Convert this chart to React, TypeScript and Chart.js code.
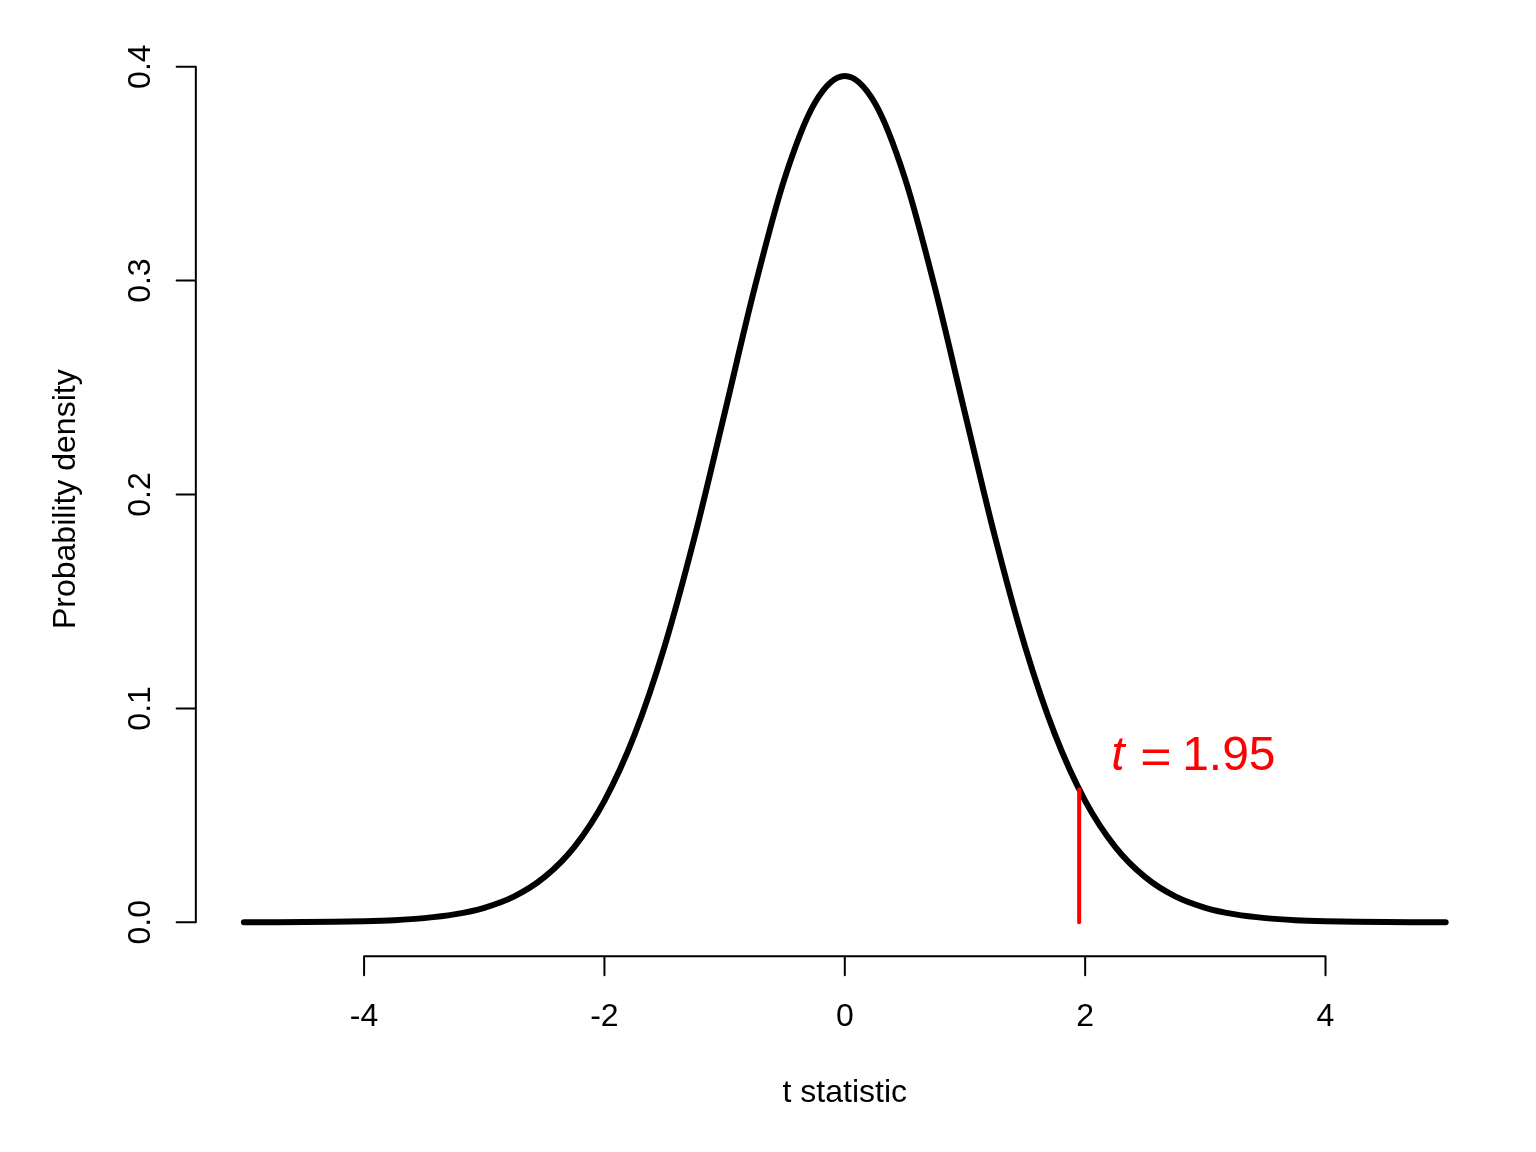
import React, { useEffect, useRef } from "react";
import { Chart, registerables } from "chart.js";

Chart.register(...registerables);

// t distribution (df = 30) density
const tValues = [
  -5, -4.75, -4.5, -4.25, -4, -3.75, -3.5, -3.25, -3, -2.75, -2.5, -2.25, -2, -1.75, -1.5, -1.25, -1, -0.75, -0.5, -0.25,
  0, 0.25, 0.5, 0.75, 1, 1.25, 1.5, 1.75, 2, 2.25, 2.5, 2.75, 3, 3.25, 3.5, 3.75, 4, 4.25, 4.5, 4.75, 5,
];
const densityValues = [
  0.00003, 0.00007, 0.00013, 0.00027, 0.00053, 0.00102, 0.00196, 0.00369, 0.00678, 0.0121, 0.0211, 0.0353, 0.0568,
  0.0876, 0.1289, 0.1801, 0.238, 0.2966, 0.3479, 0.383,
  0.3956,
  0.383, 0.3479, 0.2966, 0.238, 0.1801, 0.1289, 0.0876, 0.0568, 0.0353, 0.0211, 0.0121, 0.00678, 0.00369, 0.00196,
  0.00102, 0.00053, 0.00027, 0.00013, 0.00007, 0.00003,
];
const xTicks = [-4, -2, 0, 2, 4];
const yTicks = [0, 0.1, 0.2, 0.3, 0.4];
const yTickLabels = ["0.0", "0.1", "0.2", "0.3", "0.4"];
const observedT = 1.95;
const observedDensity = 0.0622;
const annotationLabel = "1.95";
const xTitle = "t statistic";
const yTitle = "Probability density";

const FONT = '"Liberation Sans", Arial, sans-serif';

const rAxesPlugin = {
  id: "rAxes",
  afterDraw(chart: any) {
    const { ctx, chartArea, scales } = chart;
    const xs = scales.x;
    const ys = scales.y;
    const tick = 19.2;
    ctx.save();
    ctx.strokeStyle = "#000";
    ctx.fillStyle = "#000";
    ctx.lineWidth = 2;
    ctx.lineCap = "round";
    // y axis
    const yTop = ys.getPixelForValue(yTicks[yTicks.length - 1]);
    const yBot = ys.getPixelForValue(yTicks[0]);
    const ax = chartArea.left;
    ctx.beginPath();
    ctx.moveTo(ax, yBot);
    ctx.lineTo(ax, yTop);
    for (const v of yTicks) {
      const p = ys.getPixelForValue(v);
      ctx.moveTo(ax, p);
      ctx.lineTo(ax - tick, p);
    }
    ctx.stroke();
    // x axis
    const ay = chartArea.bottom;
    const xL = xs.getPixelForValue(xTicks[0]);
    const xR = xs.getPixelForValue(xTicks[xTicks.length - 1]);
    ctx.beginPath();
    ctx.moveTo(xL, ay);
    ctx.lineTo(xR, ay);
    for (const v of xTicks) {
      const p = xs.getPixelForValue(v);
      ctx.moveTo(p, ay);
      ctx.lineTo(p, ay + tick);
    }
    ctx.stroke();
    // tick labels
    ctx.font = `32px ${FONT}`;
    ctx.textAlign = "center";
    ctx.textBaseline = "alphabetic";
    for (const v of xTicks) {
      ctx.fillText(String(v), xs.getPixelForValue(v), ay + 69.5);
    }
    yTicks.forEach((v, i) => {
      ctx.save();
      ctx.translate(ax - 46, ys.getPixelForValue(v));
      ctx.rotate(-Math.PI / 2);
      ctx.fillText(yTickLabels[i], 0, 0);
      ctx.restore();
    });
    // titles
    ctx.fillText(xTitle, (chartArea.left + chartArea.right) / 2, ay + 145.5);
    ctx.save();
    ctx.translate(ax - 121, (chartArea.top + chartArea.bottom) / 2);
    ctx.rotate(-Math.PI / 2);
    ctx.fillText(yTitle, 0, 0);
    ctx.restore();
    // annotation
    const px = xs.getPixelForValue(observedT);
    const py = ys.getPixelForValue(observedDensity);
    const baseX = px + 33;
    const baseY = py - 19;
    ctx.fillStyle = "#ff0000";
    ctx.textAlign = "left";
    ctx.font = `italic 48px ${FONT}`;
    ctx.fillText("t", baseX - 1, baseY);
    ctx.font = `48px ${FONT}`;
    ctx.save();
    ctx.translate(baseX + 28, baseY + 3);
    ctx.scale(1.12, 1);
    ctx.fillText("=", 0, 0);
    ctx.restore();
    ctx.fillText(annotationLabel, baseX + 70, baseY);
    ctx.restore();
  },
};

export default function App() {
  const ref = useRef<HTMLCanvasElement | null>(null);
  useEffect(() => {
    if (!ref.current) return;
    const curve = tValues.map((x, i) => ({ x, y: densityValues[i] }));
    const yMax = Math.max(...densityValues);
    const xMin = Math.min(...tValues);
    const xMax = Math.max(...tValues);
    const xPad = (xMax - xMin) * 0.04;
    const yPad = yMax * 0.04;
    const chart = new Chart(ref.current, {
      type: "line",
      data: {
        datasets: [
          {
            data: [
              { x: observedT, y: 0 },
              { x: observedT, y: observedDensity },
            ],
            borderColor: "#ff0000",
            borderWidth: 4,
            borderCapStyle: "round",
            pointRadius: 0,
            fill: false,
            order: 0,
            clip: false as any,
          },
          {
            data: curve,
            borderColor: "#000000",
            borderWidth: 6,
            borderCapStyle: "round",
            borderJoinStyle: "round",
            pointRadius: 0,
            fill: false,
            cubicInterpolationMode: "monotone",
            order: 1,
            clip: false as any,
          },
        ],
      },
      options: {
        animation: false,
        responsive: false,
        devicePixelRatio: 1,
        events: [],
        layout: { padding: { left: 195.84, right: 42.24, top: 42.24, bottom: 195.84 } },
        plugins: { legend: { display: false }, tooltip: { enabled: false } },
        scales: {
          x: { type: "linear", min: xMin - xPad, max: xMax + xPad, display: false },
          y: { type: "linear", min: 0 - yPad, max: yMax + yPad, display: false },
        },
      },
      plugins: [rAxesPlugin],
    });
    return () => chart.destroy();
  }, []);
  return (
    <div style={{ position: "absolute", left: 0, top: 0, width: 1536, height: 1152, background: "#fff" }}>
      <canvas ref={ref} width={1536} height={1152} style={{ width: 1536, height: 1152, display: "block" }} />
    </div>
  );
}
